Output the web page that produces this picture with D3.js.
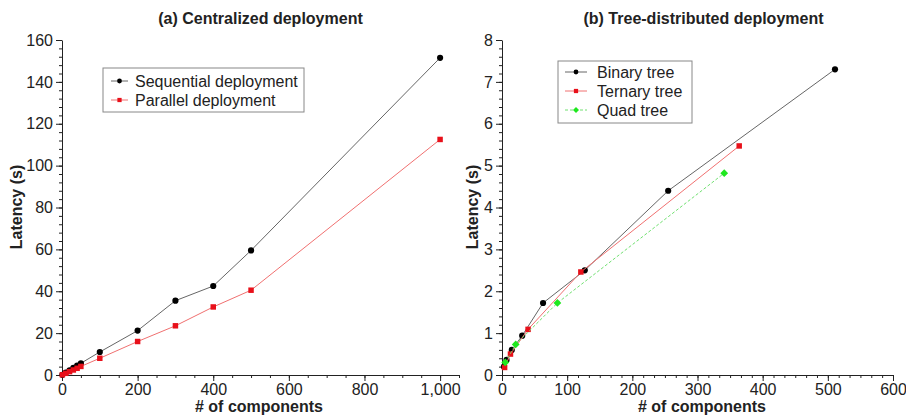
<!DOCTYPE html>
<html>
<head>
<meta charset="utf-8">
<script src="https://cdn.jsdelivr.net/npm/d3@7"></script>
<style>
  body { margin: 0; background: #fff; }
  svg { font-family: "Liberation Sans", Arial, sans-serif; }
</style>
</head>
<body>
<svg id="chart" width="906" height="417"></svg>
<script>
// (a) centralized deployment
var seqX = [1, 10, 20, 30, 40, 50, 100, 200, 300, 400, 500, 1000];
var seqY = [0.1, 1.1, 2.2, 3.4, 4.5, 5.6, 11, 21.2, 35.5, 42.5, 59.5, 151.5];
var parX = [1, 10, 20, 30, 40, 50, 100, 200, 300, 400, 500, 1000];
var parY = [0.1, 0.8, 1.6, 2.4, 3.2, 4.1, 8, 16, 23.5, 32.5, 40.5, 112.5];

// (b) tree-distributed deployment
var binX = [3, 7, 15, 31, 63, 127, 255, 511];
var binY = [0.2, 0.36, 0.6, 0.94, 1.72, 2.5, 4.4, 7.3];
var terX = [4, 13, 40, 121, 364];
var terY = [0.18, 0.5, 1.09, 2.46, 5.47];
var quadX = [5, 21, 85, 341];
var quadY = [0.3, 0.73, 1.72, 4.82];

var ticksAX = [0, 200, 400, 600, 800, 1000];
var ticksAY = [0, 20, 40, 60, 80, 100, 120, 140, 160];
var ticksBX = [0, 100, 200, 300, 400, 500, 600];
var ticksBY = [0, 1, 2, 3, 4, 5, 6, 7, 8];

var svg = d3.select("#chart");

function zip(xs, ys) {
    return xs.map(function (x, i) { return [x, ys[i]]; });
}

// square turned 45 degrees, like the reference's diamonds
var diamond = {
    draw: function (ctx, size) {
        var r = Math.sqrt(size) / 2 * Math.SQRT2;
        ctx.moveTo(0, -r); ctx.lineTo(r, 0); ctx.lineTo(0, r); ctx.lineTo(-r, 0); ctx.closePath();
    }
};

function drawPanel(opt) {
    var x = d3.scaleLinear().domain(opt.xDomain).range([opt.left, opt.right]);
    var y = d3.scaleLinear().domain(opt.yDomain).range([opt.bottom, opt.top]);
    var g = svg.append("g");

    // minor ticks
    var yMinor = d3.range(opt.yDomain[0], opt.yDomain[1] + 1e-9, opt.yMinor);
    var xMinor = d3.range(opt.xDomain[0], opt.xDomain[1] + 1e-9, opt.xMinor);
    g.append("g")
        .attr("transform", "translate(" + opt.left + ",0)")
        .call(d3.axisLeft(y).tickValues(yMinor).tickSize(3).tickFormat(""))
        .call(function (a) { a.select(".domain").remove(); });
    g.append("g")
        .attr("transform", "translate(0," + opt.bottom + ")")
        .call(d3.axisBottom(x).tickValues(xMinor).tickSize(3).tickFormat(""))
        .call(function (a) { a.select(".domain").remove(); });

    // major axes
    g.append("g")
        .attr("transform", "translate(" + opt.left + ",0)")
        .call(d3.axisLeft(y).tickValues(opt.yTicks).tickSize(6).tickSizeOuter(0).tickPadding(3));
    g.append("g")
        .attr("transform", "translate(0," + opt.bottom + ")")
        .call(d3.axisBottom(x).tickValues(opt.xTicks).tickSize(6).tickSizeOuter(0).tickPadding(3)
            .tickFormat(d3.format(",")));
    g.selectAll(".tick text").attr("font-size", 16).attr("fill", "#222")
        .attr("font-family", "Liberation Sans, Arial, sans-serif");
    g.selectAll("line, path").attr("stroke", "#222");

    // titles
    g.append("text").attr("x", (opt.left + opt.right) / 2 + opt.titleDx).attr("y", 24)
        .attr("text-anchor", "middle").attr("font-size", 16).attr("font-weight", "bold")
        .attr("fill", "#222").text(opt.title);
    g.append("text").attr("x", opt.xLabelX).attr("y", 412)
        .attr("text-anchor", "middle").attr("font-size", 16).attr("font-weight", "bold")
        .attr("fill", "#222").text("# of components");
    g.append("text").attr("transform", "translate(" + opt.yLabelX + ",207) rotate(-90)")
        .attr("text-anchor", "middle").attr("font-size", 16).attr("font-weight", "bold")
        .attr("fill", "#222").text("Latency (s)");

    // series
    var line = d3.line().x(function (d) { return x(d[0]); }).y(function (d) { return y(d[1]); });
    opt.series.forEach(function (s) {
        var data = zip(s.xs, s.ys);
        g.append("path").datum(data).attr("d", line).attr("fill", "none")
            .attr("stroke", s.line).attr("stroke-width", 1)
            .attr("stroke-dasharray", s.dash || null);
        g.selectAll(null).data(data).enter().append("path")
            .attr("transform", function (d) { return "translate(" + x(d[0]) + "," + y(d[1]) + ")"; })
            .attr("d", d3.symbol().type(s.symbol).size(s.size))
            .attr("fill", s.color);
    });

    // legend
    var lg = opt.legend;
    g.append("rect").attr("x", lg.x).attr("y", lg.y).attr("width", lg.w).attr("height", lg.h)
        .attr("fill", "#fff").attr("stroke", "#888").attr("stroke-width", 1);
    opt.series.forEach(function (s, i) {
        var cy = lg.y + lg.first + i * lg.step;
        g.append("line").attr("x1", lg.x + lg.lx0).attr("x2", lg.x + lg.lx1)
            .attr("y1", cy).attr("y2", cy).attr("stroke", s.line)
            .attr("stroke-dasharray", s.dash || null);
        g.append("path").attr("transform", "translate(" + (lg.x + (lg.lx0 + lg.lx1) / 2) + "," + cy + ")")
            .attr("d", d3.symbol().type(s.symbol).size(s.size * 0.6)).attr("fill", s.color);
        g.append("text").attr("x", lg.x + lg.tx).attr("y", cy + 6)
            .attr("font-size", 16).attr("fill", "#222").text(s.name);
    });
}

drawPanel({
    left: 62, right: 459, top: 40, bottom: 375,
    xDomain: [0, 1050], yDomain: [0, 160],
    xTicks: ticksAX, yTicks: ticksAY, xMinor: 50, yMinor: 4,
    title: "(a) Centralized deployment", titleDx: 0,
    xLabelX: 259, yLabelX: 22,
    series: [
        { name: "Sequential deployment", xs: seqX, ys: seqY, line: "#666", color: "#000",
          symbol: d3.symbolCircle, size: 30 },
        { name: "Parallel deployment", xs: parX, ys: parY, line: "#f07070", color: "#e8101a",
          symbol: d3.symbolSquare, size: 30 }
    ],
    legend: { x: 103, y: 68, w: 201, h: 44, first: 13, step: 19, lx0: 8, lx1: 25, tx: 32 }
});

drawPanel({
    left: 502, right: 893, top: 40, bottom: 375,
    xDomain: [0, 600], yDomain: [0, 8],
    xTicks: ticksBX, yTicks: ticksBY, xMinor: 100 / 6, yMinor: 0.2,
    title: "(b) Tree-distributed deployment", titleDx: 6,
    xLabelX: 702, yLabelX: 478,
    series: [
        { name: "Binary tree", xs: binX, ys: binY, line: "#666", color: "#000",
          symbol: d3.symbolCircle, size: 30 },
        { name: "Ternary tree", xs: terX, ys: terY, line: "#f07070", color: "#e8101a",
          symbol: d3.symbolSquare, size: 30 },
        { name: "Quad tree", xs: quadX, ys: quadY, line: "#70e070", color: "#1ee81e",
          symbol: diamond, size: 30, dash: "3,2" }
    ],
    legend: { x: 558, y: 61, w: 134, h: 62, first: 11, step: 19, lx0: 7, lx1: 29, tx: 39 }
});
</script>
</body>
</html>
